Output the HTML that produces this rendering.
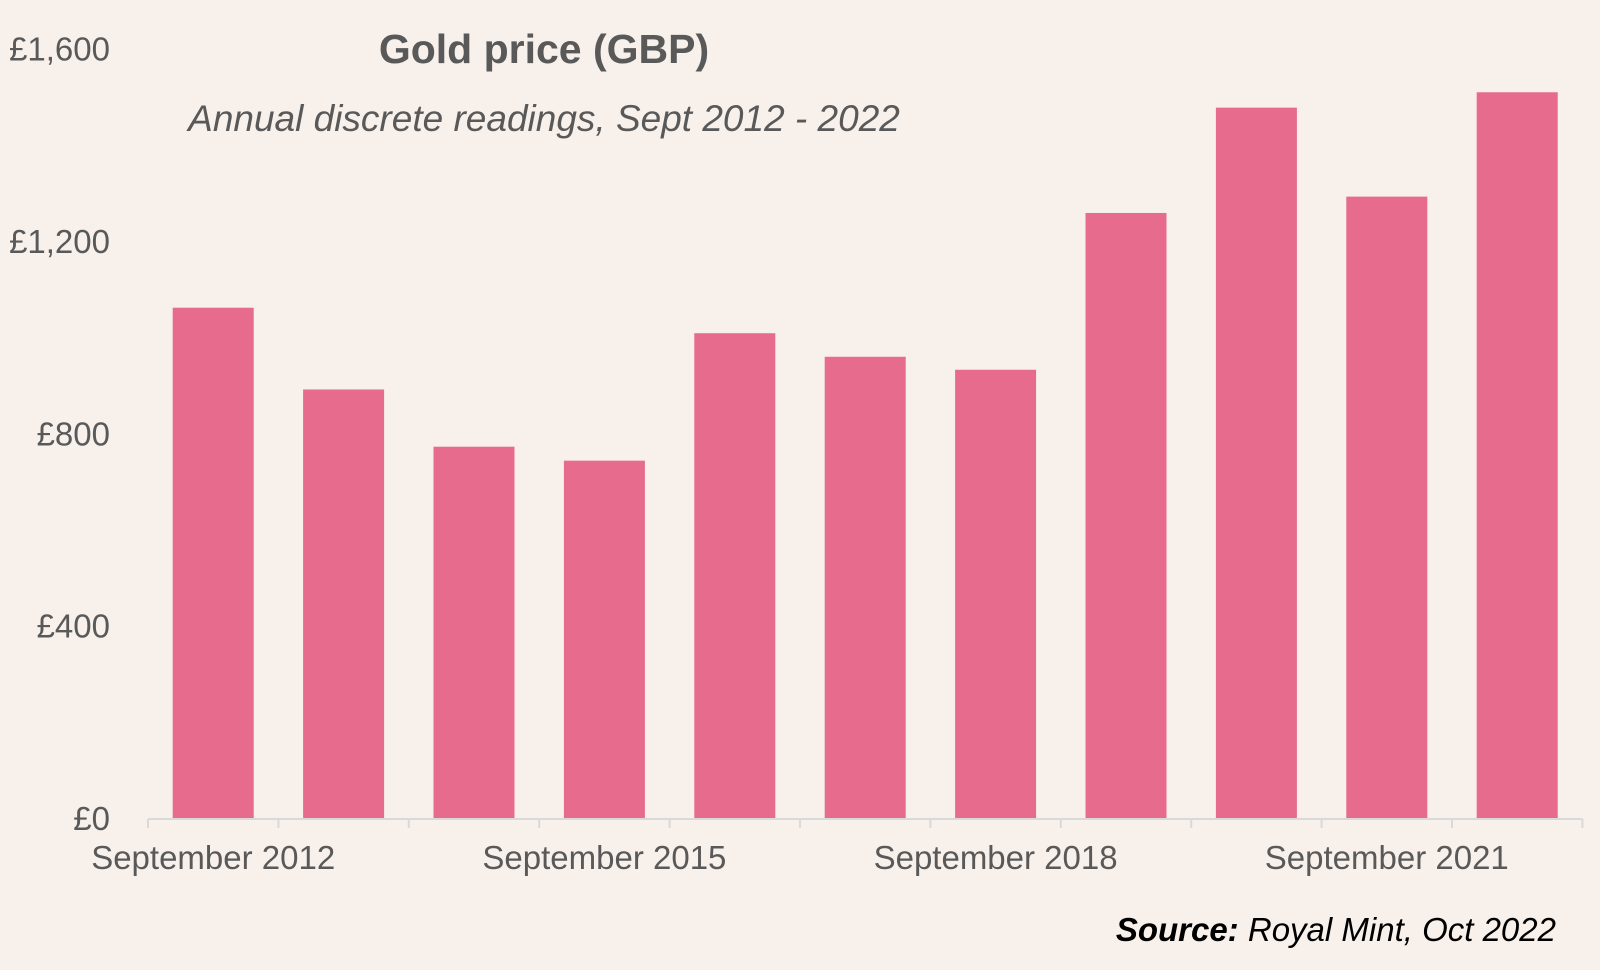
<!DOCTYPE html>
<html><head><meta charset="utf-8"><style>
body{margin:0;background:#f7f0eb;}
svg{display:block;font-family:"Liberation Sans",Arial,sans-serif;}
</style></head><body>
<svg id="chart" width="1600" height="970">
<rect width="1600" height="970" fill="#f7f0eb"/>
<text x="544" y="63" text-anchor="middle" font-size="41" font-weight="bold" fill="#595959">Gold price (GBP)</text>
<text x="544" y="131" text-anchor="middle" font-size="37" font-style="italic" fill="#595959">Annual discrete readings, Sept 2012 - 2022</text>
<text x="1556" y="941" text-anchor="end" font-size="33" font-style="italic" fill="#000"><tspan font-weight="bold">Source:</tspan> Royal Mint, Oct 2022</text>
<g id="bars"></g><g id="axes"></g>
</svg>
<script>
const categories=["September 2012","September 2013","September 2014","September 2015","September 2016","September 2017","September 2018","September 2019","September 2020","September 2021","September 2022"];
const values=[1061,891,772,743,1008,959,932,1258,1477,1292,1509];
const yTicks=[0,400,800,1200,1600];
const yTickLabels=["£0","£400","£800","£1,200","£1,600"];
const xLabelIdx=[0,3,6,9];
const NS="http://www.w3.org/2000/svg";
const x0=148,step=130.4,bw=81,y0=818,ppu=769.5/1600;
const xs=i=>x0+i*step;const ys=v=>y0-v*ppu;
const bars=document.getElementById('bars'),axes=document.getElementById('axes');
function mk(t,a,p){const e=document.createElementNS(NS,t);for(const k in a)e.setAttribute(k,a[k]);p.appendChild(e);return e;}
values.forEach((v,i)=>{const r=mk('rect',{x:xs(i)+(step-bw)/2,y:ys(v),width:bw,height:y0-ys(v),fill:'#e66b8c'},bars);

});
const ax=mk('line',{x1:x0,x2:xs(categories.length),y1:y0+1,y2:y0+1,stroke:'#d9d9d9','stroke-width':2},axes);


for(let i=0;i<=categories.length;i++){const t=mk('line',{x1:xs(i),x2:xs(i),y1:y0+1,y2:y0+10,stroke:'#d9d9d9','stroke-width':2},axes);

}
xLabelIdx.forEach(i=>{const t=mk('text',{x:xs(i)+step/2,y:869,'text-anchor':'middle','font-size':33,fill:'#595959'},axes);t.textContent=categories[i];

});
yTicks.forEach((v,i)=>{const t=mk('text',{x:110,y:ys(v)+12,'text-anchor':'end','font-size':33,fill:'#595959'},axes);t.textContent=yTickLabels[i];

});
</script>
</body></html>
